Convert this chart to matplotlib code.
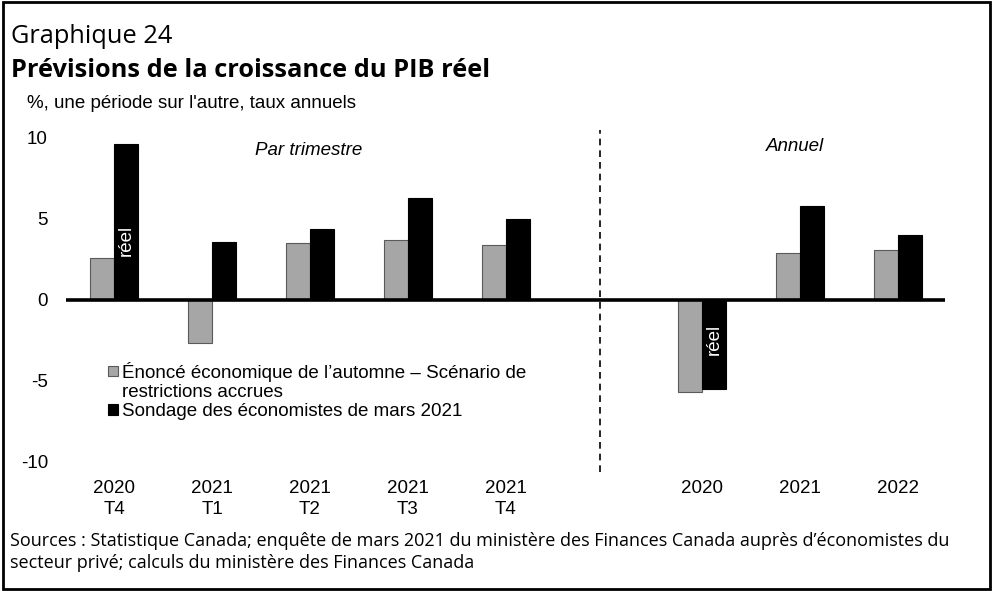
import matplotlib
matplotlib.use("Agg")
import matplotlib.pyplot as plt
from matplotlib.patches import Rectangle

# donnees
categories = ["2020\nT4", "2021\nT1", "2021\nT2", "2021\nT3", "2021\nT4", "", "2020", "2021", "2022"]
enonce_automne = [2.6, -2.65, 3.5, 3.7, 3.4, None, -5.7, 2.9, 3.1]
sondage_mars = [9.6, 3.6, 4.4, 6.3, 5.0, None, -5.5, 5.8, 4.0]
serie_noms = ["Énoncé économique de l’automne – Scénario de",
              "restrictions accrues",
              "Sondage des économistes de mars 2021"]
yticks = [-10, -5, 0, 5, 10]

gris = "#a6a6a6"
w = 0.245
fs = 13.5
arial = "Liberation Sans"

fig = plt.figure(figsize=(9.93, 5.91), dpi=100)
ax = fig.add_axes([0.0665, 0.2183, 0.885, 0.5482])

x = list(range(len(categories)))
xs = [i for i in x if enonce_automne[i] is not None]
b1 = ax.bar([i - w / 2 for i in xs], [enonce_automne[i] for i in xs], w,
            color=gris, edgecolor="#5a5a5a", linewidth=0.8, zorder=2)
b2 = ax.bar([i + w / 2 for i in xs], [sondage_mars[i] for i in xs], w,
            color="black", edgecolor="black", linewidth=0.8, zorder=2)

ax.axhline(0, color="black", linewidth=2.6, zorder=3)
ax.axvline(4.96, ymin=-0.03, ymax=1.025, color="black", linestyle=(0, (4, 3)),
           linewidth=1.2, clip_on=False)

ax.set_xlim(-0.49, 8.48)
ax.set_ylim(-10, 10)
ax.set_yticks(yticks)
ax.set_yticklabels([str(v) for v in yticks], fontsize=fs, family=arial)
ax.set_xticks(x)
ax.set_xticklabels(categories, fontsize=fs, family=arial, linespacing=1.3)
ax.tick_params(axis="both", length=0)
ax.tick_params(axis="y", pad=13)
ax.tick_params(axis="x", pad=13)
for s in ax.spines.values():
    s.set_visible(False)

# etiquettes "réel" dans les barres
ax.text(0 + w / 2, 3.7, "réel", rotation=90, color="white", fontsize=fs,
        family=arial, ha="center", va="center", zorder=4)
ax.text(6 + w / 2, -2.45, "réel", rotation=90, color="white", fontsize=fs,
        family=arial, ha="center", va="center", zorder=4)

ax.text(1.99, 9.25, "Par trimestre", fontsize=fs, style="italic",
        family=arial, ha="center", va="center")
ax.text(6.95, 9.45, "Annuel", fontsize=fs, style="italic",
        family=arial, ha="center", va="center")

vide = Rectangle((0, 0), 1, 1, facecolor="none", edgecolor="none")
leg = ax.legend([b1, vide, b2], serie_noms, loc="upper left",
                bbox_to_anchor=(0.048, 0.31), frameon=False,
                prop={"family": arial, "size": fs},
                handlelength=0.5, handleheight=0.5, handletextpad=0.25,
                labelspacing=0.12, borderaxespad=0, borderpad=0)

# titres
fig.text(0.011, 1 - 43 / 591, "Graphique 24", fontsize=18.3, family="Open Sans",
         va="baseline")
fig.text(0.011, 1 - 77 / 591, "Prévisions de la croissance du PIB réel", fontsize=18.3,
         family="Open Sans", weight="bold", va="baseline")
fig.text(0.027, 1 - 104 / 591, "%, une période sur l'autre, taux annuels", fontsize=fs,
         family=arial, va="center")

fig.text(0.010, 1 - 552 / 591, "Sources : Statistique Canada; enquête de mars 2021 du ministère des Finances Canada "
         "auprès d’économistes du\nsecteur privé; calculs du ministère des Finances Canada",
         fontsize=13, family="Open Sans", va="center", linespacing=1.3)

fig.patches.append(Rectangle((0.003, 0.003), 0.994, 0.994, transform=fig.transFigure,
                             fill=False, edgecolor="black", linewidth=2))

fig.savefig("out.png", dpi=100)
